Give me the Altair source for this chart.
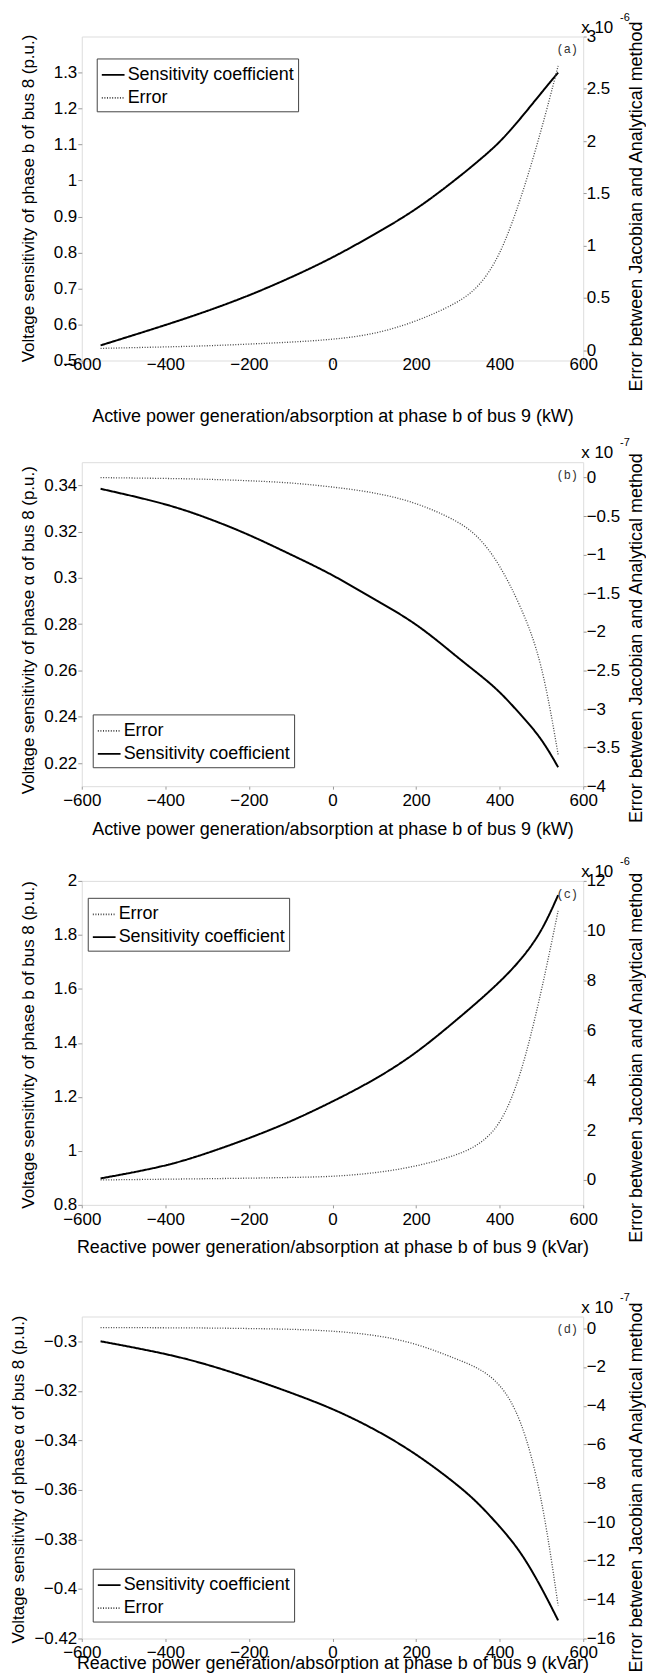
import altair as alt
import pandas as pd

# ---------------- data ----------------
x_vals = [-555, -400, -300, -200, -100, 0, 100, 200, 300, 350, 400, 450, 500, 540]

sens_a = [0.542, 0.598, 0.637, 0.680, 0.730, 0.785, 0.850, 0.918, 1.007, 1.055, 1.105, 1.172, 1.244, 1.300]
err_a = [0.016, 0.030, 0.040, 0.057, 0.075, 0.100, 0.150, 0.270, 0.450, 0.600, 0.890, 1.430, 2.100, 2.720]

sens_b = [0.3385, 0.3322, 0.3260, 0.3188, 0.3101, 0.3015, 0.2907, 0.2806, 0.2655, 0.2585, 0.2510, 0.2410, 0.2308, 0.2182]
err_b = [0.0, -0.01, -0.02, -0.04, -0.065, -0.12, -0.19, -0.32, -0.56, -0.76, -1.12, -1.66, -2.34, -3.59]

sens_c = [0.898, 0.942, 0.991, 1.046, 1.108, 1.182, 1.262, 1.360, 1.489, 1.555, 1.625, 1.705, 1.809, 1.947]
err_c = [0.0, 0.03, 0.05, 0.07, 0.10, 0.13, 0.27, 0.53, 1.00, 1.40, 2.13, 4.07, 7.53, 10.8]

sens_d = [-0.3000, -0.3049, -0.3093, -0.3147, -0.3207, -0.3271, -0.3353, -0.3453, -0.3580, -0.3655, -0.3747, -0.3847, -0.3993, -0.4127]
err_d = [0.03, 0.02, 0.01, -0.02, -0.05, -0.14, -0.34, -0.77, -1.62, -2.05, -2.81, -4.51, -8.43, -14.3]

SENS = "Sensitivity coefficient"
ERR = "Error"

x_ticks = [-600, -400, -200, 0, 200, 400, 600]
y_ticks_a = [0.5, 0.6, 0.7, 0.8, 0.9, 1.0, 1.1, 1.2, 1.3]
y_ticks_b = [0.22, 0.24, 0.26, 0.28, 0.30, 0.32, 0.34]
y_ticks_c = [0.8, 1.0, 1.2, 1.4, 1.6, 1.8, 2.0]
y_ticks_d = [-0.42, -0.40, -0.38, -0.36, -0.34, -0.32, -0.30]
e_ticks_a = [0, 0.5, 1, 1.5, 2, 2.5, 3]
e_ticks_b = [-4, -3.5, -3, -2.5, -2, -1.5, -1, -0.5, 0]
e_ticks_c = [0, 2, 4, 6, 8, 10, 12]
e_ticks_d = [-16, -14, -12, -10, -8, -6, -4, -2, 0]

x_title_p = "Active power generation/absorption at phase b of bus 9 (kW)"
x_title_q = "Reactive power generation/absorption at phase b of bus 9 (kVar)"
y_title_b = "Voltage sensitivity of phase b of bus 8 (p.u.)"
y_title_alpha = "Voltage sensitivity of phase  \u03b1 of bus 8 (p.u.)"
y2_title = "Error between Jacobian and Analytical method"
exp_base = "x 10"
exp_pows = ["-6", "-7", "-6", "-7"]
tags = ["(a)", "(b)", "(c)", "(d)"]

FONT = "Liberation Sans"
W = 503
GRAY = "#9a9a9a"
STYLE = {SENS: ("black", [1, 0]), ERR: ("#444444", [1, 1.6])}


def panel(sens, err, y_dom, y_ticks, e_dom, e_ticks, exp_pow, tag, xtitle, ytitle,
          order, leg_xy, h, x_lab_pad, xtitle_y, ytitle_x, ytitle_y, y2title_y,
          pin_top, pin_bot):
    n = len(x_vals)
    df = pd.DataFrame({"x": x_vals * 2, "v": sens + err,
                       "series": [SENS] * n + [ERR] * n})
    leg = alt.Legend(orient="none", legendX=leg_xy[0], legendY=leg_xy[1], title=None,
                     symbolType="stroke", symbolSize=520, symbolStrokeWidth=1.8,
                     labelFont=FONT, labelFontSize=18, labelColor="black",
                     strokeColor="#444444", fillColor="white", padding=4,
                     rowPadding=1, labelOffset=2, labelLimit=400)
    color = alt.Color("series:N", scale=alt.Scale(domain=order, range=[STYLE[s][0] for s in order]),
                      legend=leg)
    dash = alt.StrokeDash("series:N", scale=alt.Scale(domain=order, range=[STYLE[s][1] for s in order]),
                          legend=leg)
    x_enc = alt.X("x:Q", scale=alt.Scale(domain=[-600, 600], nice=False, zero=False),
                  axis=alt.Axis(values=x_ticks, format="d", title=xtitle, grid=False, domain=False,
                                tickSize=3, tickColor=GRAY, labelPadding=x_lab_pad,
                                labelFont=FONT, labelFontSize=17, labelColor="black",
                                labelFlush=False, labelOverlap=False, labelBound=False,
                                titleFont=FONT, titleFontSize=18, titleFontWeight="normal",
                                titleColor="black", titleX=W / 2, titleY=xtitle_y,
                                titleBaseline="middle", titleAlign="center"))
    left = alt.Chart(df).transform_filter(alt.datum.series == SENS).mark_line(
        strokeWidth=2, interpolate="basis").encode(
        x=x_enc,
        y=alt.Y("v:Q", scale=alt.Scale(domain=y_dom, nice=False, zero=False),
                axis=alt.Axis(orient="left", values=y_ticks, format="~g", title=ytitle, grid=False,
                              domain=False, tickSize=4, tickColor=GRAY, labelPadding=1,
                              labelFont=FONT, labelFontSize=17, labelColor="black",
                              labelOverlap=False, labelFlush=False, labelBound=False,
                              titleFont=FONT, titleFontSize=17, titleFontWeight="normal",
                              titleColor="black", titleX=ytitle_x, titleY=ytitle_y,
                              titleAngle=270, titleBaseline="middle", titleAlign="center")),
        color=color, strokeDash=dash)
    right = alt.Chart(df).transform_filter(alt.datum.series == ERR).mark_line(
        strokeWidth=1.3, interpolate="basis").encode(
        x=x_enc,
        y=alt.Y("v:Q", scale=alt.Scale(domain=e_dom, nice=False, zero=False),
                axis=alt.Axis(orient="right", values=e_ticks, format="~g", title=y2_title, grid=False,
                              domain=False, tickSize=3, tickColor=GRAY, labelPadding=0,
                              labelFont=FONT, labelFontSize=17, labelColor="black",
                              labelOverlap=False, labelFlush=False, labelBound=False,
                              titleFont=FONT, titleFontSize=18, titleFontWeight="normal",
                              titleColor="black", titleX=53, titleY=y2title_y,
                              titleAngle=270, titleBaseline="middle", titleAlign="center")),
        color=color, strokeDash=dash)
    lines = alt.layer(left, right).resolve_scale(y="independent")

    base_txt = alt.Chart(pd.DataFrame({"t": [exp_base]})).mark_text(
        font=FONT, fontSize=17, align="left", baseline="middle", color="black").encode(
        text="t:N", x=alt.value(501), y=alt.value(-9))
    pow_txt = alt.Chart(pd.DataFrame({"t": [exp_pow]})).mark_text(
        font=FONT, fontSize=11, align="left", baseline="middle", color="black").encode(
        text="t:N", x=alt.value(540), y=alt.value(-19))
    tag_txt = alt.Chart(pd.DataFrame({"t": [tag]})).mark_text(
        font="Liberation Mono", fontSize=12, align="center", baseline="middle", color="#333333").encode(
        text="t:N", x=alt.value(487), y=alt.value(13))
    pin = alt.Chart(pd.DataFrame({"t": [0]})).mark_rule(opacity=0).encode(
        x=alt.value(0), y=alt.value(-pin_top), y2=alt.value(h + pin_bot))
    return alt.layer(lines, base_txt, pow_txt, tag_txt, pin).properties(width=W, height=h)


pa = panel(sens_a, err_a, [0.5, 1.4], y_ticks_a, [-0.1, 3], e_ticks_a, exp_pows[0], tags[0],
           x_title_p, y_title_b, [SENS, ERR], (15, 22), 325, -7, 56, -53, 162, 170, 24, 70)
pb = panel(sens_b, err_b, [0.21, 0.35], y_ticks_b, [-4, 0.2], e_ticks_b, exp_pows[1], tags[1],
           x_title_p, y_title_alpha, [ERR, SENS], (11, 253), 325, 3.5, 43, -53, 168, 176, 30, 63)
pc = panel(sens_c, err_c, [0.8, 2.0], y_ticks_c, [-1, 12], e_ticks_c, exp_pows[2], tags[2],
           x_title_q, y_title_b, [ERR, SENS], (6, 17), 325, 3.5, 43, -53, 164, 177, 30, 80)
pd_ = panel(sens_d, err_d, [-0.42, -0.29], y_ticks_d, [-16, 0.6], e_ticks_d, exp_pows[3], tags[3],
            x_title_q, y_title_alpha, [SENS, ERR], (11, 253), 323, 3.5, 25, -63, 163, 171, 30, 34)

chart = alt.vconcat(pa, pb, pc, pd_, spacing=0).resolve_scale(
    x="independent", color="independent", strokeDash="independent"
).resolve_legend(color="independent", strokeDash="independent").properties(
    padding={"left": 1, "top": 0, "right": 0, "bottom": 0}
).configure_view(stroke=GRAY, strokeWidth=1).configure(background="white")

chart.save("out.html", embed_options={"renderer": "svg", "actions": False})
